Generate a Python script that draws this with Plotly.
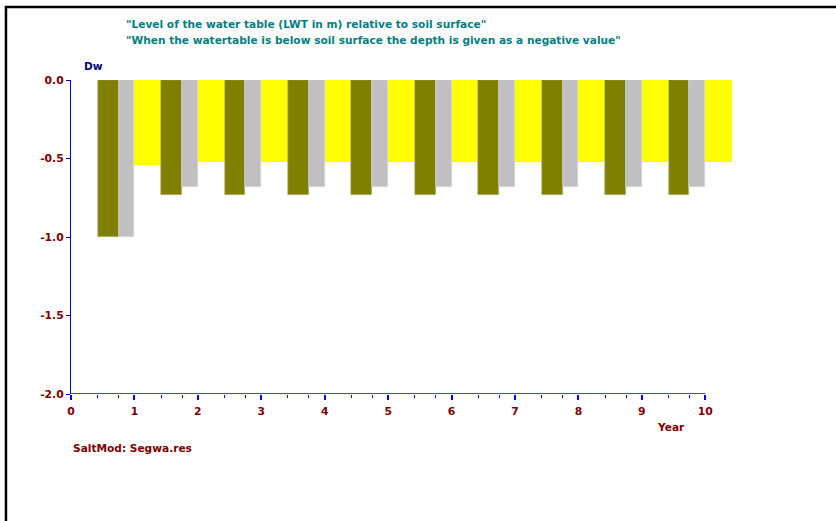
import plotly.graph_objects as go

# ---- data ----
years = [1, 2, 3, 4, 5, 6, 7, 8, 9, 10]
dw_olive = [-1.00, -0.73, -0.73, -0.73, -0.73, -0.73, -0.73, -0.73, -0.73, -0.73]
dw_gray = [-1.00, -0.68, -0.68, -0.68, -0.68, -0.68, -0.68, -0.68, -0.68, -0.68]
dw_yellow = [-0.54, -0.52, -0.52, -0.52, -0.52, -0.52, -0.52, -0.52, -0.52, -0.52]
x_ticks = [0, 1, 2, 3, 4, 5, 6, 7, 8, 9, 10]
y_ticks = [0.0, -0.5, -1.0, -1.5, -2.0]

title1 = '"Level of the water table (LWT in m) relative to soil surface"'
title2 = '"When the watertable is below soil surface the depth is given as a negative value"'

# ---- layout geometry (pixels) ----
WIDTH, HEIGHT = 836, 521
L, T = 71, 80
XMAX = 10.5
PX_PER_UNIT = 63.4
W = PX_PER_UNIT * XMAX
H = 314
R = WIDTH - L - W
B = HEIGHT - T - H


def xp(px):
    return (px - L) / W


def yp(py):
    return 1 - (py - T) / H


OLIVE_OFF, OLIVE_W = -0.58, 0.33
GRAY_OFF, GRAY_W = -0.25, 0.25
YEL_OFF, YEL_W = 0.0, 0.42

FONT = "DejaVu Sans, Verdana, sans-serif"
DARKRED = "#800000"
TEAL = "#008080"
NAVY = "#000080"
BLUE = "#0000FF"
TXT = 10.6

fig = go.Figure()
fig.add_trace(go.Bar(x=years, y=dw_yellow, offset=YEL_OFF, width=YEL_W,
                     marker=dict(color="#FFFF00", line=dict(width=0)),
                     showlegend=False, hoverinfo="x+y"))
fig.add_trace(go.Bar(x=years, y=dw_olive, offset=OLIVE_OFF, width=OLIVE_W,
                     marker=dict(color="#808000", line=dict(width=0.6, color="#B8B890")),
                     showlegend=False, hoverinfo="x+y"))
fig.add_trace(go.Bar(x=years, y=dw_gray, offset=GRAY_OFF, width=GRAY_W,
                     marker=dict(color="#C0C0C0", line=dict(width=0.6, color="#D8D8D8")),
                     showlegend=False, hoverinfo="x+y"))

minor_edges = []
for k in years:
    minor_edges += [k + OLIVE_OFF, k + GRAY_OFF]

fig.update_layout(
    width=WIDTH, height=HEIGHT,
    margin=dict(l=L, r=R, t=T, b=B, pad=0),
    paper_bgcolor="white", plot_bgcolor="white",
    barmode="overlay", bargap=0,
    font=dict(family=FONT, size=TXT, color=DARKRED),
    xaxis=dict(range=[0, XMAX], showgrid=False, zeroline=False, showline=False,
               tickmode="array", tickvals=x_ticks, ticktext=[str(v) for v in x_ticks],
               ticks="outside", ticklen=5, tickwidth=1.5, tickcolor=BLUE,
               ticklabelstandoff=2,
               tickfont=dict(family=FONT, size=10.8, color=DARKRED, weight="bold"),
               minor=dict(tickmode="array", tickvals=minor_edges, ticks="outside",
                          ticklen=3, tickwidth=1, tickcolor=BLUE, showgrid=False),
               fixedrange=True),
    yaxis=dict(range=[-2.0, 0.0], showgrid=False, zeroline=False,
               showline=True, linecolor=BLUE, linewidth=1.2,
               tickmode="array", tickvals=y_ticks, ticktext=[f"{v:.1f}" for v in y_ticks],
               ticks="outside", ticklen=4, tickwidth=1, tickcolor=BLUE,
               tickfont=dict(family=FONT, size=10.8, color=DARKRED, weight="bold"),
               fixedrange=True),
    shapes=[
        # x axis line (ends at last labelled year)
        dict(type="line", xref="x", yref="y", x0=x_ticks[0], x1=x_ticks[-1],
             y0=y_ticks[-1], y1=y_ticks[-1], line=dict(color=BLUE, width=1.5)),
        # window frame: top and left black lines
        dict(type="line", xref="paper", yref="paper", x0=xp(5), x1=xp(WIDTH),
             y0=yp(7), y1=yp(7), line=dict(color="black", width=2.5)),
        dict(type="line", xref="paper", yref="paper", x0=xp(6), x1=xp(6),
             y0=yp(6), y1=yp(HEIGHT), line=dict(color="black", width=2.5)),
    ],
    annotations=[
        dict(text=title1, x=xp(124), y=yp(24), xref="paper", yref="paper",
             xanchor="left", yanchor="middle", showarrow=False,
             font=dict(family=FONT, size=TXT, color=TEAL, weight="bold")),
        dict(text=title2, x=xp(124), y=yp(40), xref="paper", yref="paper",
             xanchor="left", yanchor="middle", showarrow=False,
             font=dict(family=FONT, size=TXT, color=TEAL, weight="bold")),
        dict(text="Dw", x=xp(82), y=yp(66), xref="paper", yref="paper",
             xanchor="left", yanchor="middle", showarrow=False,
             font=dict(family=FONT, size=TXT, color=NAVY, weight="bold")),
        dict(text="Year", x=xp(671), y=yp(427), xref="paper", yref="paper",
             xanchor="center", yanchor="middle", showarrow=False,
             font=dict(family=FONT, size=TXT, color=DARKRED, weight="bold")),
        dict(text="SaltMod: Segwa.res", x=xp(71), y=yp(448), xref="paper", yref="paper",
             xanchor="left", yanchor="middle", showarrow=False,
             font=dict(family=FONT, size=TXT, color=DARKRED, weight="bold")),
    ],
)

fig.write_html("out.html")
